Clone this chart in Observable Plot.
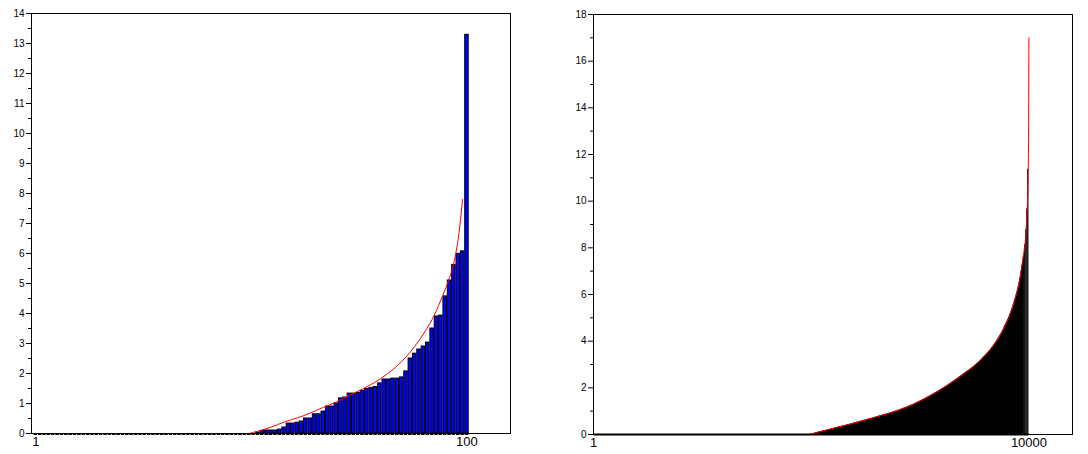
<!DOCTYPE html>
<html>
<head>
<meta charset="utf-8">
<script src="https://cdn.jsdelivr.net/npm/d3@7"></script>
<script src="https://cdn.jsdelivr.net/npm/@observablehq/plot@0.6"></script>
<style>
  html, body { margin: 0; padding: 0; background: #fff; }
  #wrap { display: flex; width: 1088px; height: 454px; }
  #wrap > div { width: 544px; height: 454px; }
  svg { font-family: "Liberation Sans", Arial, sans-serif; }
</style>
</head>
<body>
<div id="wrap"><div id="left"></div><div id="right"></div></div>
<script>
// ---- Left panel: 100 sorted values (bars) ----
const leftIndex = d3.range(1, 101);
const leftValues = [
  0,0,0,0,0,0,0,0,0,0, 0,0,0,0,0,0,0,0,0,0,
  0,0,0,0,0,0,0,0,0,0, 0,0,0,0,0,0,0,0,0,0,
  0,0,0,0,0,0,0,0,0,0, 0,
  0.03, 0.08, 0.1, 0.1, 0.1, 0.13, 0.2, 0.33, 0.33, 0.36,
  0.4, 0.5, 0.5, 0.64, 0.64, 0.73, 0.9, 0.9, 1.0, 1.17,
  1.2, 1.33, 1.33, 1.35, 1.42, 1.48, 1.52, 1.55, 1.67, 1.8,
  1.8, 1.83, 1.83, 1.87, 2.07, 2.5, 2.66, 2.8, 2.9, 3.03,
  3.5, 3.9, 3.93, 4.57, 5.1, 5.62, 5.99, 6.07, 13.29
];
const leftCurveX = [50, 52, 55, 58, 61, 64, 67, 70, 73, 76, 79, 82, 85, 87, 89, 91, 92, 93, 94, 95, 96, 97, 98, 99];
const leftCurveY = [0, 0.08, 0.21, 0.38, 0.52, 0.68, 0.87, 1.05, 1.27, 1.48, 1.72, 2.02, 2.4, 2.72, 3.1, 3.55, 3.8, 4.1, 4.45, 4.8, 5.2, 5.7, 6.5, 7.8];
const leftXTicks = [1, 100];
const leftYTicks = d3.range(0, 15, 1);
const leftYMinor = d3.range(0.5, 14, 1);

// ---- Right panel: 10000 sorted values (sampled outline of the bars) ----
const rightFirst = 1, rightLast = 10000;
const rightAreaX = [4976, 5200, 5435, 5819, 6200, 6584, 7000, 7349, 7732, 8116, 8499, 8880, 9186, 9416, 9646, 9799, 9876];
const rightAreaY = [0, 0.12, 0.23, 0.41, 0.6, 0.8, 1.04, 1.30, 1.66, 2.09, 2.59, 3.16, 3.81, 4.52, 5.59, 6.74, 7.63];
const rightTailX1 = [9876, 9900, 9925, 9948, 9970];
const rightTailX2 = [9900, 9925, 9948, 9970, 10000];
const rightTailY = [7.63, 8.13, 8.78, 9.67, 11.36];
const rightCurveX = [4976, 5200, 5435, 5819, 6200, 6584, 7000, 7349, 7732, 8116, 8499, 8880, 9186, 9416, 9646, 9799, 9876, 9920, 9950, 9975, 9990, 9999];
const rightCurveY = [0, 0.12, 0.23, 0.41, 0.6, 0.8, 1.04, 1.30, 1.66, 2.09, 2.59, 3.16, 3.81, 4.52, 5.59, 6.74, 7.74, 8.4, 9.3, 10.6, 12.4, 17.0];
const rightXTicks = [1, 10000];
const rightYTicks = d3.range(0, 19, 2);
const rightYMinor = d3.range(1, 18, 2);

const leftData = leftIndex.map((i, k) => ({i, v: leftValues[k]}));
const leftCurve = leftCurveX.map((x, k) => ({x, y: leftCurveY[k]}));
const rightArea = rightAreaX.map((x, k) => ({x, y: rightAreaY[k]}));
const rightTail = rightTailX1.map((x1, k) => ({x1, x2: rightTailX2[k], y: rightTailY[k]}));
const rightCurve = rightCurveX.map((x, k) => ({x, y: rightCurveY[k]}));

const common = {width: 544, height: 454, style: {fontFamily: '"Liberation Sans", Arial, sans-serif', background: "#fff", color: "#000"}};

const left = Plot.plot({
  ...common,
  marginLeft: 31, marginRight: 34, marginTop: 13, marginBottom: 21,
  x: {domain: [0, 110]},
  y: {domain: [0, 14]},
  marks: [
    Plot.rect(leftData.filter(d => d.v > 0), {x1: d => d.i - 0.4, x2: d => d.i + 0.4, y1: 0, y2: "v", fill: "#0000ff", stroke: "#000", strokeWidth: 1}),
    Plot.ruleY(leftData, {x1: d => d.i - 0.4, x2: d => d.i + 0.4, y: 0, dy: 1, stroke: "#000", strokeWidth: 1}),
    Plot.line(leftCurve, {x: "x", y: "y", stroke: "#ff0000", strokeWidth: 1, curve: "monotone-x"}),
    Plot.frame({stroke: "#000", strokeWidth: 1}),
    Plot.axisY({ticks: leftYTicks, tickSize: 5, tickPadding: 2, fontSize: 10, label: null}),
    Plot.axisY({ticks: leftYMinor, tickSize: 3, tickFormat: () => "", label: null}),
    Plot.axisX({ticks: leftXTicks, tickSize: 0, tickPadding: 3, fontSize: 13, tickFormat: d3.format("d"), label: null})
  ]
});

const right = Plot.plot({
  ...common,
  marginLeft: 49, marginRight: 16, marginTop: 14, marginBottom: 20,
  x: {domain: [0, 11000]},
  y: {domain: [0, 18]},
  marks: [
    Plot.area(rightArea, {x1: "x", y1: 0, y2: "y", fill: "#000", curve: "monotone-x"}),
    Plot.rect(rightTail, {x1: "x1", x2: "x2", y1: 0, y2: "y", fill: "#000"}),
    Plot.ruleY([0], {x1: rightFirst, x2: rightLast, stroke: "#000", strokeWidth: 2}),
    Plot.line(rightCurve, {x: "x", y: "y", stroke: "#ff0000", strokeWidth: 1, curve: "monotone-x"}),
    Plot.frame({stroke: "#000", strokeWidth: 1}),
    Plot.axisY({ticks: rightYTicks, tickSize: 5, tickPadding: 2, fontSize: 10, label: null}),
    Plot.axisY({ticks: rightYMinor, tickSize: 3, tickFormat: () => "", label: null}),
    Plot.axisX({ticks: rightXTicks, tickSize: 0, tickPadding: 3, fontSize: 13, tickFormat: d3.format("d"), label: null})
  ]
});

document.getElementById("left").appendChild(left);
document.getElementById("right").appendChild(right);
</script>
</body>
</html>
